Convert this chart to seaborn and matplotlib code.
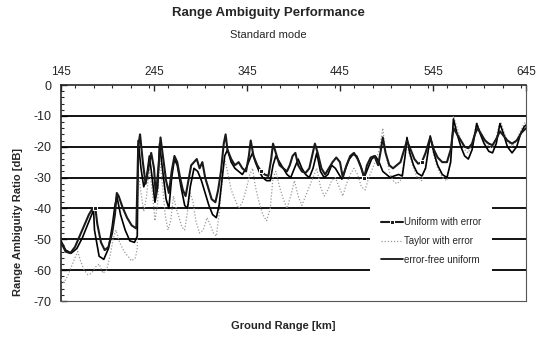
import numpy as np
import pandas as pd
import matplotlib
matplotlib.use("Agg")
import matplotlib.pyplot as plt
import seaborn as sns
from matplotlib.ticker import MultipleLocator

# ---------------- data ----------------
ef_km = [145,150,156,162,168,174,180,181,186,191,196,200,203,205,209,214,219,224,227,
         228,231,234,237,240,243,246,249,251,254,258,261,264,267,270,274,278,281,284,288,
         292,296,300,304,308,312,315,318,321,324,328,332,336,340,344,348,351,354,358,362,
         366,370,373,376,380,384,388,392,396,400,404,408,412,416,420,424,428,432,436,440,
         444,447,451,455,459,463,467,471,475,479,483,487,491,495,499,503,508,512,515,517,
         520,524,528,533,537,540,542,546,550,555,560,564,567,571,575,579,583,587,590,592,
         596,600,605,609,613,616,617,621,625,630,635,639,643,645]
ef_db = [-50.5,-53.5,-54.5,-53,-49.5,-45,-40.5,-47,-55.5,-56.5,-53,-46,-39,-36,-42,-47,-50.5,-51,-49,
         -18,-27,-33,-30,-23,-30,-38,-33,-19,-27,-37,-40,-30,-24,-26,-33,-39,-40,-33,-27,
         -28,-31,-35,-39,-42,-43,-39,-31,-23,-21,-25,-27,-28,-29,-27,-24,-22,-25,-28,-30,
         -31,-31,-26,-23,-25,-27,-29,-30,-27,-24,-27,-29,-30,-27,-22,-28,-30,-29,-26,-27,
         -29,-30.5,-27,-24,-22.5,-23,-26,-30,-27,-24,-23,-25,-28,-29,-30,-29.5,-29,-29.5,-23,-17,
         -22,-26,-28.5,-29.5,-27,-21,-16.5,-22,-26,-29,-30,-25,-11,-16,-20,-23,-24,-21,-16,-12.5,
         -16,-19,-21.5,-22,-19,-14,-12.5,-16,-20,-22,-20,-16,-13.5,-13]

ue_km = [145,150,155,160,165,170,175,179,182,184,188,192,196,200,203,205,207,211,216,221,226,
         228,230,233,236,239,242,245,247,250,252,255,258,261,264,267,270,273,276,279,282,285,
         288,291,294,297,300,303,307,311,314,317,320,322,324,328,332,336,340,344,347,349,352,
         356,360,364,368,371,373,376,380,384,388,391,394,397,400,404,408,412,415,418,421,425,
         429,433,437,441,445,448,452,456,460,464,468,471,474,478,482,486,489,491,494,498,502,
         506,510,514,517,521,525,529,533,537,540,542,546,550,555,560,564,567,571,575,579,583,
         587,590,593,597,601,605,609,613,617,621,625,630,635,640,645]
ue_db = [-51,-54,-54.5,-52.5,-49,-45.5,-42,-40,-40,-45,-51,-53.5,-52.5,-48,-42,-35,-36,-39.5,-43,-45.5,-46.5,
         -20,-16,-25,-32,-27,-22,-27,-36,-26,-17,-24,-31,-35,-28,-23,-25,-30,-34,-36,-31,-26,
         -25,-24,-27,-25,-30,-33,-37,-38,-34,-28,-19,-16,-21,-24,-26,-25,-27,-28,-23,-18,-23,
         -26,-28,-29,-29.5,-24,-19,-22,-26,-27,-28,-26,-23,-22,-26,-28,-28.5,-27,-23,-19,-22,-27,
         -29,-27,-25,-23.5,-25,-30,-26,-23,-22,-24,-27,-30,-26,-23.5,-23,-26,-21,-17,-22,-26,-27,
         -26,-25,-21,-18,-21,-24,-25.5,-25,-22,-19,-17,-21,-23.5,-25,-25,-21,-14,-16,-18,-20,-20.5,
         -19,-16,-14,-16,-18,-19,-19.5,-17.5,-15,-16.5,-18,-19,-18,-15.5,-14]

tw_km = [145,148,152,156,160,163,166,170,174,178,182,186,190,194,198,201,204,208,213,217,221,225,227,
         228,231,234,237,240,243,246,249,251,254,257,260,263,266,269,272,275,278,281,284,287,290,
         294,298,302,305,309,312,315,318,321,324,328,332,336,340,344,348,351,354,358,362,366,370,
         373,376,380,384,388,392,396,400,404,408,412,416,420,424,428,432,436,440,444,448,452,456,
         460,464,468,472,476,480,484,488,491,494,498,502,506,510,514,517,520,524,528,533,537,540,
         542,546,550,555,560,564,567,571,575,579,583,587,590,592,596,600,605,609,613,616,618,621,
         625,630,635,639,643,645]
tw_db = [-63,-64,-62,-59,-56,-54,-57,-60,-61.5,-61,-59,-58,-61,-60,-55,-50,-47,-51,-54,-55.5,-57,-56,-53,
         -28,-35,-41,-36,-27,-34,-44,-38,-23,-32,-42,-47,-44,-36,-40,-43,-46,-47,-41,-35,-38,-44,
         -48,-47,-43,-45,-48,-49,-42,-32,-24,-28,-34,-37,-40,-38,-34,-29,-27,-33,-38,-42,-44,-40,
         -30,-28,-33,-37,-40,-36,-31,-36,-39,-36,-33,-30,-27,-33,-36,-34,-31,-30,-33,-36,-32,-29,
         -27,-29,-33,-34,-30,-27,-24,-20,-14,-22,-28,-31,-32,-31,-25,-19,-23,-27,-30,-31,-26,-20,
         -17,-23,-27,-30,-31,-24,-10,-14,-18,-21,-22,-19,-15,-12,-15,-18,-20,-20.5,-17,-13,-12,-15,
         -18,-20,-18,-15,-12.5,-12]

series_names = ["Uniform with error", "Taylor with error", "error-free uniform"]
x_ticks = [145, 245, 345, 445, 545, 645]
y_ticks = [0, -10, -20, -30, -40, -50, -60, -70]

title = "Range Ambiguity Performance"
subtitle = "Standard mode"
x_label = "Ground Range [km]"
y_label = "Range Ambiguity Ratio [dB]"

# ---------------- plotting ----------------
sns.set_theme(style="white")
plt.rcParams['font.family'] = ['Liberation Sans', 'DejaVu Sans']

fig = plt.figure(figsize=(5.37, 3.47), dpi=100)
ax = fig.add_axes([61/537, 1-301/347, (526-61)/537, (301-85)/347])

for yv in [-10, -20, -30, -40, -50, -60]:
    ax.axhline(yv, color="black", lw=1.3, zorder=1)

sns.lineplot(x=tw_km, y=tw_db, ax=ax, sort=False, estimator=None, color="#9a9a9a",
             lw=0.9, linestyle=(0, (1, 1.5)), label=series_names[1], zorder=3)
sns.lineplot(x=ef_km, y=ef_db, ax=ax, sort=False, estimator=None, color="black",
             lw=1.2, label=series_names[2], zorder=4)
sns.lineplot(x=ue_km, y=ue_db, ax=ax, sort=False, estimator=None, color="#1a1a1a",
             lw=1.5, marker="s", markersize=3.5, markevery=[8, 64, 95, 112],
             label=series_names[0], zorder=5)

ax.set_xlim(145, 645)
ax.set_ylim(-70, 0)
ax.xaxis.tick_top()
ax.set_xticks(x_ticks)
ax.set_xticklabels([str(v) for v in x_ticks], fontsize=8.5)
ax.xaxis.set_minor_locator(MultipleLocator(20))
ax.set_yticks(y_ticks)
ax.set_yticklabels([str(v) for v in y_ticks], fontsize=9)
ax.yaxis.set_minor_locator(MultipleLocator(2))
ax.tick_params(axis="x", which="major", direction="in", length=4, width=1, pad=5, top=True, bottom=False)
ax.tick_params(axis="x", which="minor", direction="in", length=2.5, width=0.8, top=True, bottom=False)
ax.tick_params(axis="y", which="major", direction="in", length=4, width=1, pad=7, left=True)
ax.tick_params(axis="y", which="minor", direction="in", length=2, width=0.8, left=True)

ax.spines["top"].set_linewidth(1.2)
ax.spines["left"].set_linewidth(1.2)
for s in ["right", "bottom"]:
    ax.spines[s].set_linestyle((0, (1, 1)))
    ax.spines[s].set_color("#555555")
    ax.spines[s].set_linewidth(0.8)
ax.set_xlabel("")
ax.set_ylabel("")

handles, labels = ax.get_legend_handles_labels()
order = [labels.index(n) for n in series_names]
leg = ax.legend([handles[i] for i in order], [labels[i] for i in order],
                loc="center", bbox_to_anchor=((431-61)/465, (301-241)/216),
                fontsize=7, frameon=True, facecolor="white", edgecolor="none",
                framealpha=1, handlelength=2.2, handletextpad=0.1, labelspacing=0.9,
                borderpad=1.2)
leg.set_zorder(10)

fig.text(0.5, 1-13/347, title, ha="center", va="center", fontsize=9.5, fontweight="bold")
fig.text(0.5, 1-35/347, subtitle, ha="center", va="center", fontsize=8)
fig.text(283/537, 1-326/347, x_label, ha="center", va="center", fontsize=8, fontweight="bold")
fig.text(18/537, 1-222/347, y_label, ha="center", va="center", rotation=90, fontsize=8, fontweight="bold")

fig.savefig("out.png", dpi=100)
